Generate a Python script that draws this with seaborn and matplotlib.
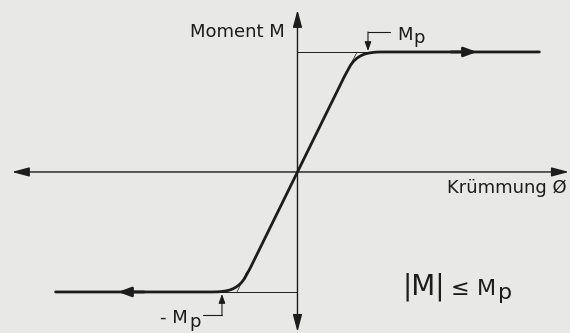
import numpy as np
import pandas as pd
import seaborn as sns
import matplotlib.pyplot as plt

# moment-curvature curve, phi in units of phi_y, M in units of Mp
phi = [-4.1, -1.45, -1.35, -1.3, -1.25, -1.2, -1.15, -1.1, -1.05, -1.0, -0.95, -0.9, -0.8, 0.0,
       0.8, 0.9, 0.95, 1.0, 1.05, 1.1, 1.15, 1.2, 1.25, 1.3, 1.35, 1.42, 4.1]
moment = [-1.0, -1.0, -0.999, -0.997, -0.994, -0.99, -0.984, -0.975, -0.962, -0.945, -0.922, -0.89, -0.8, 0.0,
          0.8, 0.89, 0.922, 0.945, 0.962, 0.975, 0.984, 0.99, 0.994, 0.997, 0.999, 1.0, 1.0]

# elastic tangent continued up to the plastic moment
tan_top_phi = [0.87, 1.01]
tan_top_m = [0.867, 1.0]
tan_bot_phi = [-0.86, -1.025]
tan_bot_m = [-0.833, -1.0]

mp_top_phi = [0.0, 1.5]
mp_bot_phi = [-1.5, 0.0]

df = pd.DataFrame({'phi': phi, 'M': moment})

sns.set_theme(style='white')
plt.rcParams['font.family'] = ['DejaVu Sans']

bg = '#e8e8e6'
ink = '#1c1c1c'

fig = plt.figure(figsize=(5.7, 3.33), dpi=100, facecolor=bg)
ax = fig.add_axes([0, 0, 1, 1])
ax.set_facecolor(bg)
ax.set_xlim(-5.042, 4.619)
ax.set_ylim(-1.342, 1.433)
ax.axis('off')

# axes with arrows
ax_arrow = dict(arrowstyle='<|-|>,head_length=1.05,head_width=0.28', color=ink,
                lw=1.0, shrinkA=0, shrinkB=0, mutation_scale=10)
ax.annotate('', xy=(4.60, 0), xytext=(-4.84, 0), arrowprops=ax_arrow)
ax.annotate('', xy=(0, 1.35), xytext=(0, -1.333), arrowprops=ax_arrow)

# thin Mp lines and tangents
ax.plot(mp_top_phi, [1, 1], color=ink, lw=0.7)
ax.plot(mp_bot_phi, [-1, -1], color=ink, lw=0.7)
ax.plot(tan_top_phi, tan_top_m, color=ink, lw=0.5)
ax.plot(tan_bot_phi, tan_bot_m, color=ink, lw=0.5)

sns.lineplot(data=df, x='phi', y='M', sort=False, estimator=None,
             color=ink, lw=2.0, ax=ax)

# direction arrows on plateaus
pl_arrow = dict(arrowstyle='-|>,head_length=0.75,head_width=0.28', color=ink,
                lw=2.0, shrinkA=0, shrinkB=0, mutation_scale=10)
ax.annotate('', xy=(3.04, 1), xytext=(2.6, 1), arrowprops=pl_arrow)
ax.annotate('', xy=(-3.04, -1), xytext=(-2.6, -1), arrowprops=pl_arrow)

# leaders to Mp labels
ld_arrow = dict(arrowstyle='-|>,head_length=0.55,head_width=0.2', color=ink,
                lw=0.8, shrinkA=0, shrinkB=0, mutation_scale=10)
ax.plot([1.195, 1.568], [1.167, 1.167], color=ink, lw=0.8)
ax.annotate('', xy=(1.195, 1.008), xytext=(1.195, 1.167), arrowprops=ld_arrow)
ax.plot([-1.60, -1.28], [-1.192, -1.192], color=ink, lw=0.8)
ax.annotate('', xy=(-1.28, -1.017), xytext=(-1.28, -1.192), arrowprops=ld_arrow)

# labels
ax.text(-0.212, 1.125, 'Moment M', ha='right', va='baseline', fontsize=13, color=ink)
ax.text(2.53, -0.175, 'Krümmung Ø', ha='left', va='baseline', fontsize=13, color=ink)

ax.text(1.686, 1.10, 'M', ha='left', va='baseline', fontsize=13, color=ink)
ax.text(1.96, 1.072, 'p', ha='left', va='baseline', fontsize=13, color=ink)

ax.text(-2.33, -1.258, '- M', ha='left', va='baseline', fontsize=13, color=ink)
ax.text(-1.84, -1.292, 'p', ha='left', va='baseline', fontsize=13, color=ink)

ax.text(1.788, -1.025, '|M|', ha='left', va='baseline', fontsize=20, color=ink)
ax.text(2.60, -1.025, '≤', ha='left', va='baseline', fontsize=16, color=ink)
ax.text(3.042, -1.025, 'M', ha='left', va='baseline', fontsize=16, color=ink)
ax.text(3.40, -1.06, 'p', ha='left', va='baseline', fontsize=16, color=ink)

fig.savefig('out.png', dpi=100, facecolor=bg)
